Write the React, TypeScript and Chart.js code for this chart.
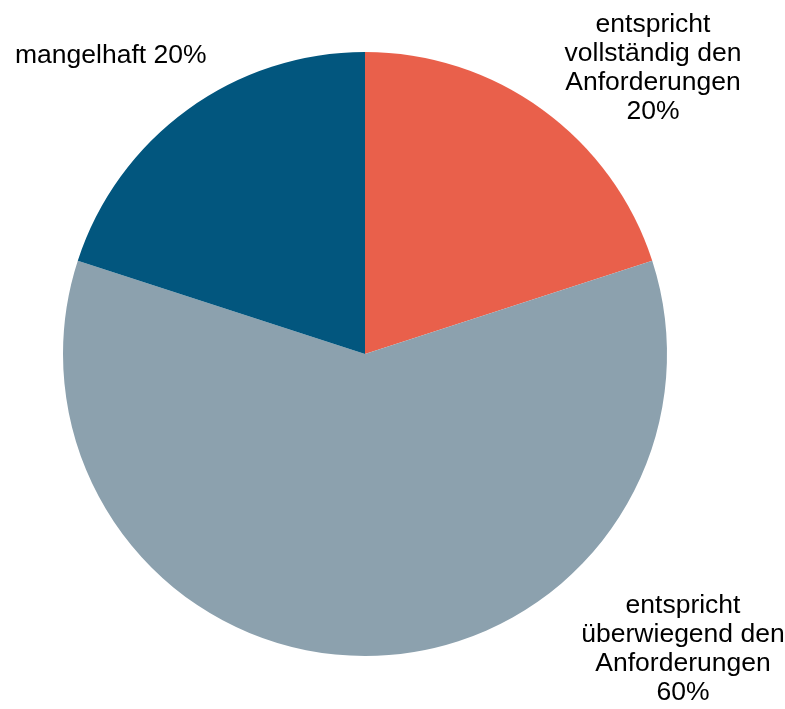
import React, { useEffect, useRef } from "react";
import { Chart, registerables } from "chart.js";

Chart.register(...registerables);

const categories = [
  "entspricht vollständig den Anforderungen",
  "entspricht überwiegend den Anforderungen",
  "mangelhaft",
];
const values = [20, 60, 20];
const colors = ["#E9604B", "#8CA1AE", "#02567E"];
// label lines for each slice
const labelLines = [
  ["entspricht", "vollständig den", "Anforderungen", "20%"],
  ["entspricht", "überwiegend den", "Anforderungen", "60%"],
  ["mangelhaft 20%"],
];

const FONT = '26.5px "Liberation Sans", Arial, sans-serif';
const LINE_H = 29;

const labelPlugin = {
  id: "outerLabels",
  afterDraw(chart: any) {
    const meta = chart.getDatasetMeta(0);
    const arc = meta.data[0];
    if (!arc) return;
    const cx = arc.x;
    const cy = arc.y;
    const ctx = chart.ctx;
    ctx.save();
    ctx.font = FONT;
    ctx.fillStyle = "#000000";
    ctx.textBaseline = "alphabetic";
    ctx.textAlign = "center";
    labelLines[0].forEach((t, i) => ctx.fillText(t, cx + 288, cy - 322 + i * LINE_H));
    labelLines[1].forEach((t, i) => ctx.fillText(t, cx + 318, cy + 259 + i * LINE_H));
    ctx.textAlign = "left";
    labelLines[2].forEach((t, i) => ctx.fillText(t, cx - 350, cy - 291 + i * LINE_H));
    ctx.restore();
  },
};

export default function App() {
  const ref = useRef<HTMLCanvasElement>(null);
  useEffect(() => {
    document.body.style.margin = "0";
    const chart = new Chart(ref.current!, {
      type: "pie",
      data: {
        labels: categories,
        datasets: [
          {
            data: values,
            backgroundColor: colors,
            borderWidth: 0,
          },
        ],
      },
      options: {
        responsive: false,
        animation: false,
        layout: { padding: { left: 63, right: 118, top: 52, bottom: 53 } },
        plugins: {
          legend: { display: false },
          tooltip: { enabled: false },
          title: { display: false },
        },
      },
      plugins: [labelPlugin],
    });
    return () => chart.destroy();
  }, []);
  return (
    <div style={{ position: "absolute", left: 0, top: 0, width: 785, height: 709, background: "#fff" }}>
      <canvas ref={ref} width={785} height={709} />
    </div>
  );
}
